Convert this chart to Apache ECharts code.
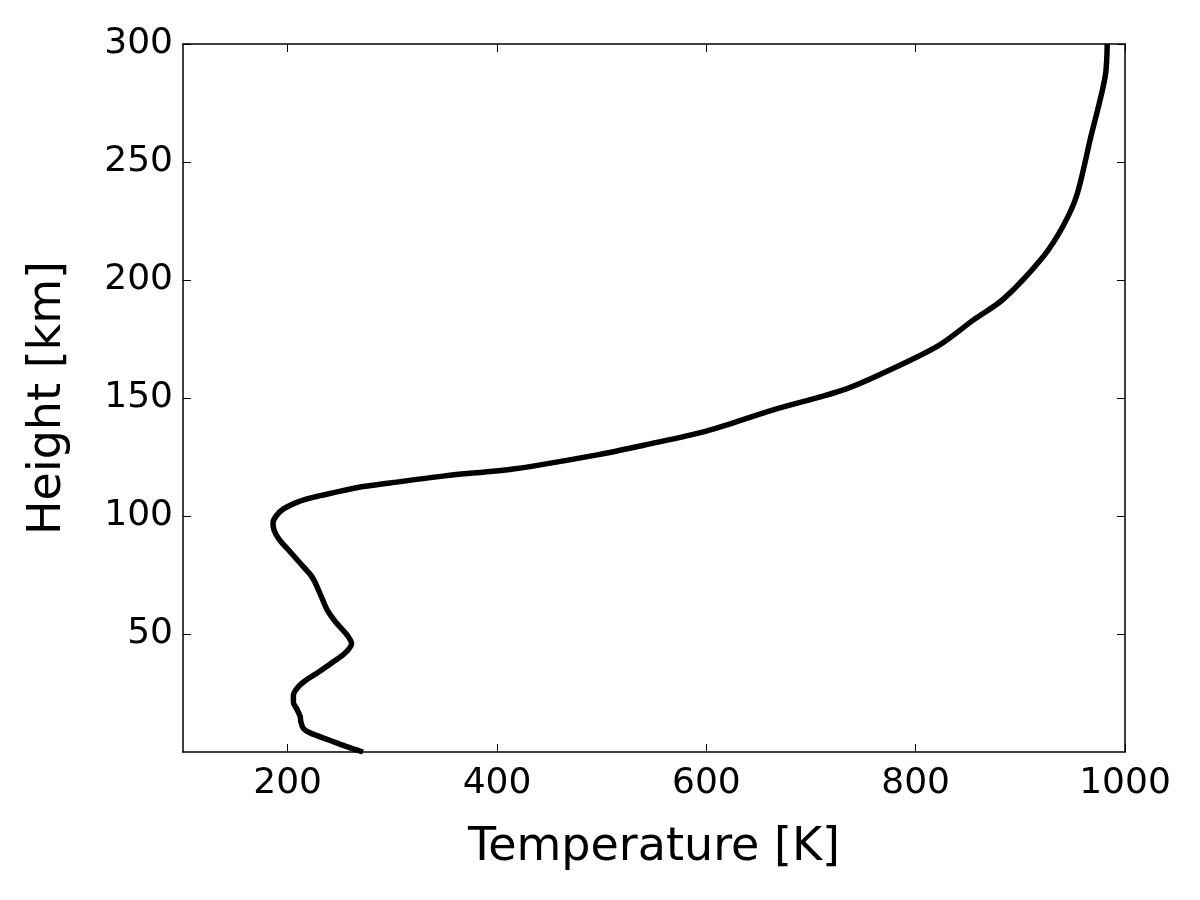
<!DOCTYPE html>
<html>
<head>
<meta charset="utf-8">
<title>Temperature profile</title>
<script src="https://cdn.jsdelivr.net/npm/echarts@6/dist/echarts.min.js"></script>
<style>
  html, body { margin: 0; padding: 0; background: #fff; }
  #chart { width: 1200px; height: 900px; }
</style>
</head>
<body>
<div id="chart"></div>
<script>
// 高度 (km) 与温度 (K)
const heights = [0, 2.5, 5, 8, 10, 13, 15, 18, 21, 24, 27, 30, 34, 38, 42, 46, 50, 55, 60, 66, 72, 75, 78, 82, 86, 90, 94, 97, 100, 103, 106, 108, 110, 112, 114, 117, 120, 126, 130, 136, 145, 153, 160, 172, 183, 192, 210, 223, 236, 260, 286, 300];
const temps = [272, 255, 240, 222, 215, 212.5, 212, 209, 205.5, 205.5, 209, 216, 230, 243, 255, 261, 256, 246, 238, 232, 226, 222, 216, 208, 200, 192, 187, 186, 189, 196, 210, 225, 245, 266, 298, 350, 417, 497, 540, 600, 664, 728, 766, 821, 855, 884, 922, 941, 954, 967, 981, 983];

const xTicks = [200, 400, 600, 800, 1000];
const yTicks = [50, 100, 150, 200, 250, 300];

const font = "DejaVu Sans";
const profile = heights.map((h, i) => [temps[i], h]);

const chart = echarts.init(document.getElementById("chart"));

// 四周边框 + 向内刻度
const frameLine = { show: true, onZero: false, lineStyle: { color: "#000", width: 1.5 } };
const tickIn = { show: true, inside: true, length: 8, lineStyle: { color: "#000", width: 1 } };

const option = {
  backgroundColor: "#fff",
  animation: false,
  grid: { left: 183, right: 75, top: 44, bottom: 148 },
  xAxis: [
    {
      type: "value", position: "bottom", min: 100, max: 1000,
      name: "Temperature [K]", nameLocation: "middle", nameGap: 73,
      nameTextStyle: { fontFamily: font, fontSize: 46, color: "#000" },
      axisLine: frameLine,
      axisTick: Object.assign({ customValues: xTicks }, tickIn),
      axisLabel: {
        customValues: xTicks, margin: 14, fontFamily: font, fontSize: 36, color: "#000",
        formatter: v => String(v)
      },
      splitLine: { show: false }
    },
    {
      type: "value", position: "top", min: 100, max: 1000,
      axisLine: frameLine,
      axisTick: Object.assign({ customValues: xTicks }, tickIn),
      axisLabel: { show: false },
      splitLine: { show: false }
    }
  ],
  yAxis: [
    {
      type: "value", position: "left", min: 0, max: 300,
      name: "Height [km]", nameLocation: "middle", nameGap: 112,
      nameTextStyle: { fontFamily: font, fontSize: 46, color: "#000" },
      axisLine: frameLine,
      axisTick: Object.assign({ customValues: yTicks }, tickIn),
      axisLabel: {
        customValues: yTicks, margin: 10, fontFamily: font, fontSize: 36, color: "#000",
        formatter: v => String(v)
      },
      splitLine: { show: false }
    },
    {
      type: "value", position: "right", min: 0, max: 300,
      axisLine: frameLine,
      axisTick: Object.assign({ customValues: yTicks }, tickIn),
      axisLabel: { show: false },
      splitLine: { show: false }
    }
  ],
  series: [
    {
      type: "line",
      xAxisIndex: 0,
      yAxisIndex: 0,
      data: profile,
      smooth: 0.3,
      showSymbol: false,
      clip: true,
      lineStyle: { color: "#000", width: 5.5 }
    }
  ]
};

chart.setOption(option);
window.onresize = chart.resize;
</script>
</body>
</html>
